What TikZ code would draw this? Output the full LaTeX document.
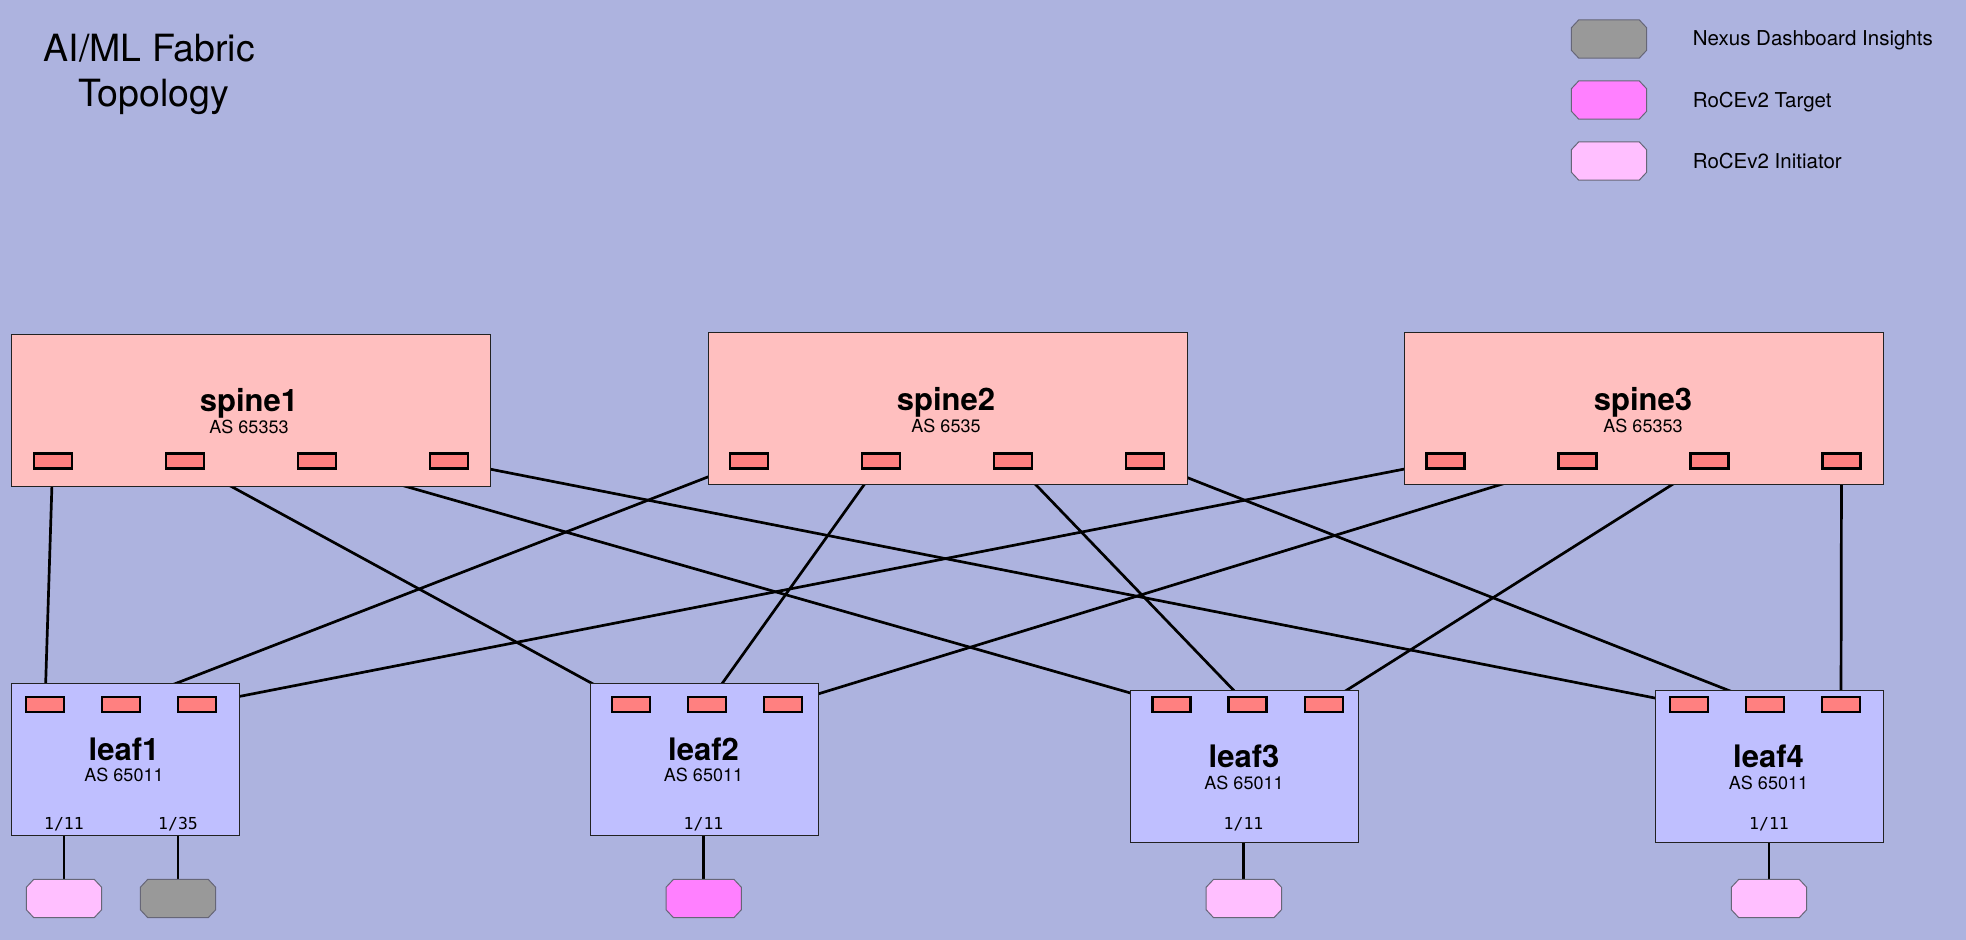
\documentclass[tikz,border=0pt]{standalone}
\usepackage{fontspec}
\setmainfont{TeX Gyre Heros}
\newfontfamily\portmono{DejaVu Sans Mono}
\pgfdeclarelayer{canvas}
\pgfdeclarelayer{links}
\pgfsetlayers{canvas,links,main}
\definecolor{bgc}{HTML}{ADB3DF}
\definecolor{spinefill}{HTML}{FFBFBF}
\definecolor{leaffill}{HTML}{BFBFFF}
\definecolor{portfill}{HTML}{FF8080}
\definecolor{ndifill}{HTML}{999999}
\definecolor{tgtfill}{HTML}{FF80FF}
\definecolor{inifill}{HTML}{FFBFFF}
\definecolor{boxline}{HTML}{222222}
\definecolor{hostline}{HTML}{666677}
% host: named base node plus chamfered outline
\newcommand\hostnode[3]{%
  \node[hostbase] (#1) at (#2) {};
  \draw[hostoutline, fill=#3]
    ([xshift=7.5pt]#1.north west) -- ([xshift=-7.5pt]#1.north east)
    -- ([yshift=-8pt]#1.north east) -- ([yshift=8pt]#1.south east)
    -- ([xshift=-7.5pt]#1.south east) -- ([xshift=7.5pt]#1.south west)
    -- ([yshift=8pt]#1.south west) -- ([yshift=-8pt]#1.north west) -- cycle;
}
\begin{document}
\begin{tikzpicture}[x=1pt,y=-1pt,
  spinebox/.style={draw=boxline, line width=1.4pt, fill=spinefill, minimum width=479pt, minimum height=152pt, inner sep=0pt, anchor=north west},
  leafbox/.style={draw=boxline, line width=1.4pt, fill=leaffill, minimum width=228pt, minimum height=152pt, inner sep=0pt, anchor=north west},
  portbox/.style={draw=black, line width=2.4pt, fill=portfill, minimum width=38pt, minimum height=15pt, inner sep=0pt},
  hostbase/.style={rectangle, draw=none, fill=none, minimum width=75pt, minimum height=38pt, inner sep=0pt},
  hostoutline/.style={draw=hostline, line width=1pt},
  devname/.style={font=\bfseries\fontsize{31}{37}\selectfont, anchor=base, inner sep=0pt},
  asnum/.style={font=\fontsize{18}{22}\selectfont, anchor=base, inner sep=0pt},
  ifname/.style={font=\portmono\fontsize{16.5}{20}\selectfont, anchor=base, inner sep=0pt},
  titletext/.style={font=\fontsize{37.5}{45}\selectfont, anchor=base, inner sep=0pt},
  legendtext/.style={font=\fontsize{20.5}{24}\selectfont, anchor=base west, inner sep=0pt},
  link/.style={draw=black, line width=2.7pt}
]
\begin{pgfonlayer}{canvas}
\fill[bgc] (0,0) rectangle (1966,940);
\end{pgfonlayer}
\useasboundingbox (0,0) rectangle (1966,940);

% title
\node[titletext] (title1) at (149.3,61) {AI/ML Fabric};
\node[titletext] (title2) at (153.5,106) {Topology};

% legend
\hostnode{lg1}{1609,39}{ndifill}
\hostnode{lg2}{1609,100}{tgtfill}
\hostnode{lg3}{1609,161}{inifill}
\node[legendtext] (lgt1) at (1692.7,45.7) {Nexus Dashboard Insights};
\node[legendtext] (lgt2) at (1692.7,107.3) {RoCEv2 Target};
\node[legendtext] (lgt3) at (1692.7,168.3) {RoCEv2 Initiator};

% spines
\node[spinebox] (s1) at (10.5,333.5) {};
\node[spinebox] (s2) at (707.5,332) {};
\node[spinebox] (s3) at (1404,332) {};
\node[devname] (s1n) at (249,411.7) {spine1};
\node[asnum] (s1a) at (249,433.3) {AS 65353};
\node[devname] (s2n) at (946,410.5) {spine2};
\node[asnum] (s2a) at (946,432) {AS 6535};
\node[devname] (s3n) at (1643,410.5) {spine3};
\node[asnum] (s3a) at (1643,432) {AS 65353};

\node[portbox] (s1p1) at (52.7,461) {};
\node[portbox] (s1p2) at (184.7,461) {};
\node[portbox] (s1p3) at (316.7,461) {};
\node[portbox] (s1p4) at (448.7,461) {};
\node[portbox] (s2p1) at (749,461) {};
\node[portbox] (s2p2) at (881,461) {};
\node[portbox] (s2p3) at (1013,461) {};
\node[portbox] (s2p4) at (1145,461) {};
\node[portbox] (s3p1) at (1445.5,461) {};
\node[portbox] (s3p2) at (1577.5,461) {};
\node[portbox] (s3p3) at (1709.5,461) {};
\node[portbox] (s3p4) at (1841.5,461) {};

% leaves
\node[leafbox] (l1) at (11,682.5) {};
\node[leafbox] (l2) at (589.5,682.5) {};
\node[leafbox] (l3) at (1130,689.5) {};
\node[leafbox] (l4) at (1654.8,689.5) {};
\node[devname] (l1n) at (124,760) {leaf1};
\node[asnum] (l1a) at (124,781.7) {AS 65011};
\node[devname] (l2n) at (703.5,760) {leaf2};
\node[asnum] (l2a) at (703.5,781.7) {AS 65011};
\node[devname] (l3n) at (1244,767.7) {leaf3};
\node[asnum] (l3a) at (1244,789) {AS 65011};
\node[devname] (l4n) at (1768.5,767.7) {leaf4};
\node[asnum] (l4a) at (1768.5,789) {AS 65011};

\node[portbox] (l1p1) at (45,704.7) {};
\node[portbox] (l1p2) at (121,704.7) {};
\node[portbox] (l1p3) at (197,704.7) {};
\node[portbox] (l2p1) at (631,704.7) {};
\node[portbox] (l2p2) at (707,704.7) {};
\node[portbox] (l2p3) at (783,704.7) {};
\node[portbox] (l3p1) at (1171.5,704.7) {};
\node[portbox] (l3p2) at (1247.5,704.7) {};
\node[portbox] (l3p3) at (1323.7,704.7) {};
\node[portbox] (l4p1) at (1689,704.7) {};
\node[portbox] (l4p2) at (1765,704.7) {};
\node[portbox] (l4p3) at (1841,704.7) {};

\node[ifname] (l1i1) at (64,829.3) {1/11};
\node[ifname] (l1i2) at (178,829.3) {1/35};
\node[ifname] (l2i1) at (703.5,829.3) {1/11};
\node[ifname] (l3i1) at (1243.5,829.3) {1/11};
\node[ifname] (l4i1) at (1769,829.3) {1/11};

% hosts
\hostnode{h11}{64,898.5}{inifill}
\hostnode{h12}{178,898.5}{ndifill}
\hostnode{h21}{703.7,898.5}{tgtfill}
\hostnode{h31}{1243.8,898.5}{inifill}
\hostnode{h41}{1769,898.5}{inifill}

% links
\begin{pgfonlayer}{links}
\draw[link] (s1p1.center) -- (l1p1.center);
\draw[link] (s1p2.center) -- (l2p1.center);
\draw[link] (s1p3.center) -- (l3p1.center);
\draw[link] (s1p4.center) -- (l4p1.center);
\draw[link] (s2p1.center) -- (l1p2.center);
\draw[link] (s2p2.center) -- (l2p2.center);
\draw[link] (s2p3.center) -- (l3p2.center);
\draw[link] (s2p4.center) -- (l4p2.center);
\draw[link] (s3p1.center) -- (l1p3.center);
\draw[link] (s3p2.center) -- (l2p3.center);
\draw[link] (s3p3.center) -- (l3p3.center);
\draw[link] (s3p4.center) -- (l4p3.center);
\draw[link] (h11.north) -- (h11.north |- l1.center);
\draw[link] (h12.north) -- (h12.north |- l1.center);
\draw[link] (h21.north) -- (h21.north |- l2.center);
\draw[link] (h31.north) -- (h31.north |- l3.center);
\draw[link] (h41.north) -- (h41.north |- l4.center);
\end{pgfonlayer}
\end{tikzpicture}
\end{document}
